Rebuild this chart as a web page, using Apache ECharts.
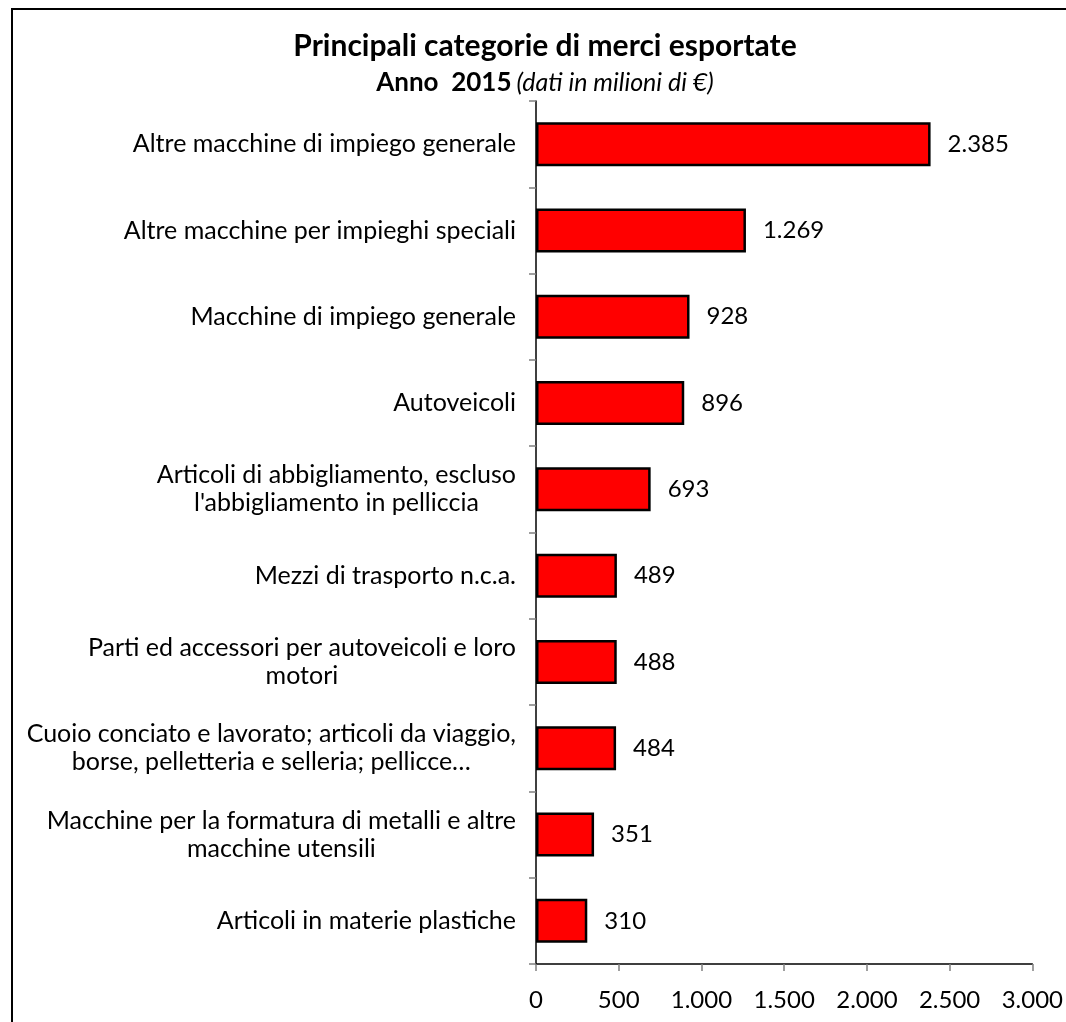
<!DOCTYPE html>
<html>
<head>
<meta charset="utf-8">
<script src="https://cdn.jsdelivr.net/npm/echarts@6/dist/echarts.min.js"></script>
<style>
  html, body { margin: 0; padding: 0; background: #fff; }
  #chart { width: 1066px; height: 1022px; }
</style>
</head>
<body>
<div id="chart"></div>
<script>
// categorie (dall'alto verso il basso)
const categories = [
  "Altre macchine di impiego generale",
  "Altre macchine per impieghi speciali",
  "Macchine di impiego generale",
  "Autoveicoli",
  "Articoli di abbigliamento, escluso\nl'abbigliamento in pelliccia",
  "Mezzi di trasporto n.c.a.",
  "Parti ed accessori per autoveicoli e loro\nmotori",
  "Cuoio conciato e lavorato; articoli da viaggio,\nborse, pelletteria e selleria; pellicce…",
  "Macchine per la formatura di metalli e altre\nmacchine utensili",
  "Articoli in materie plastiche"
];
// milioni di euro, anno 2015
const values = [2385, 1269, 928, 896, 693, 489, 488, 484, 351, 310];
const xTicks = { min: 0, max: 3000, step: 500 };

const FONT = "Lato";

function fmtIt(v) {
  return String(v).replace(/\B(?=(\d{3})+(?!\d))/g, ".");
}

const chart = echarts.init(document.getElementById("chart"));
chart.setOption({
  backgroundColor: "#fff",
  animation: false,
  title: [
    {
      text: "Principali categorie di merci esportate",
      left: 545,
      top: 31,
      padding: 0,
      textAlign: "center",
      textStyle: { fontFamily: FONT, fontSize: 30, fontWeight: "bold", color: "#000" }
    },
    {
      text: "{b|Anno  2015} {i|(dati in milioni di €)}",
      left: 545,
      top: 70,
      padding: 0,
      textAlign: "center",
      textStyle: {
        fontWeight: "normal",
        rich: {
          b: { fontFamily: FONT, fontSize: 26, fontWeight: "bold", color: "#000" },
          i: { fontFamily: FONT, fontSize: 25, fontWeight: "normal", fontStyle: "italic", color: "#000" }
        }
      }
    }
  ],
  graphic: [
    {
      type: "rect",
      shape: { x: 12, y: 9, width: 1100, height: 1100 },
      style: { fill: null, stroke: "#000", lineWidth: 2 },
      silent: true,
      z: -1
    }
  ],
  grid: { left: 536, right: 29, top: 101, bottom: 58 },
  xAxis: {
    type: "value",
    min: xTicks.min,
    max: xTicks.max,
    interval: xTicks.step,
    axisLine: { show: true, lineStyle: { color: "#000", width: 1.5 } },
    axisTick: { show: true, length: 7, lineStyle: { color: "#808080", width: 1.5 } },
    splitLine: { show: false },
    axisLabel: {
      margin: 24,
      fontFamily: FONT,
      fontSize: 24,
      color: "#000",
      formatter: fmtIt
    }
  },
  yAxis: {
    type: "category",
    inverse: true,
    data: categories,
    axisLine: { show: true, lineStyle: { color: "#000", width: 1.5 } },
    axisTick: { show: true, length: 7, lineStyle: { color: "#808080", width: 1.5 } },
    axisLabel: {
      margin: 20,
      color: "#000",
      formatter: function (v) {
        return v.split("\n").map(function (l) { return "{c|" + l + "}"; }).join("\n");
      },
      rich: {
        c: { fontFamily: FONT, fontSize: 25, color: "#000", align: "center", lineHeight: 28 }
      }
    }
  },
  series: [
    {
      type: "bar",
      data: values,
      barCategoryGap: "49%",
      itemStyle: { color: "#ff0000", borderColor: "#000", borderWidth: 2.5 },
      label: {
        show: true,
        position: "right",
        distance: 17,
        fontFamily: FONT,
        fontSize: 24,
        color: "#000",
        formatter: function (p) { return fmtIt(p.value); }
      }
    }
  ]
});
</script>
</body>
</html>
